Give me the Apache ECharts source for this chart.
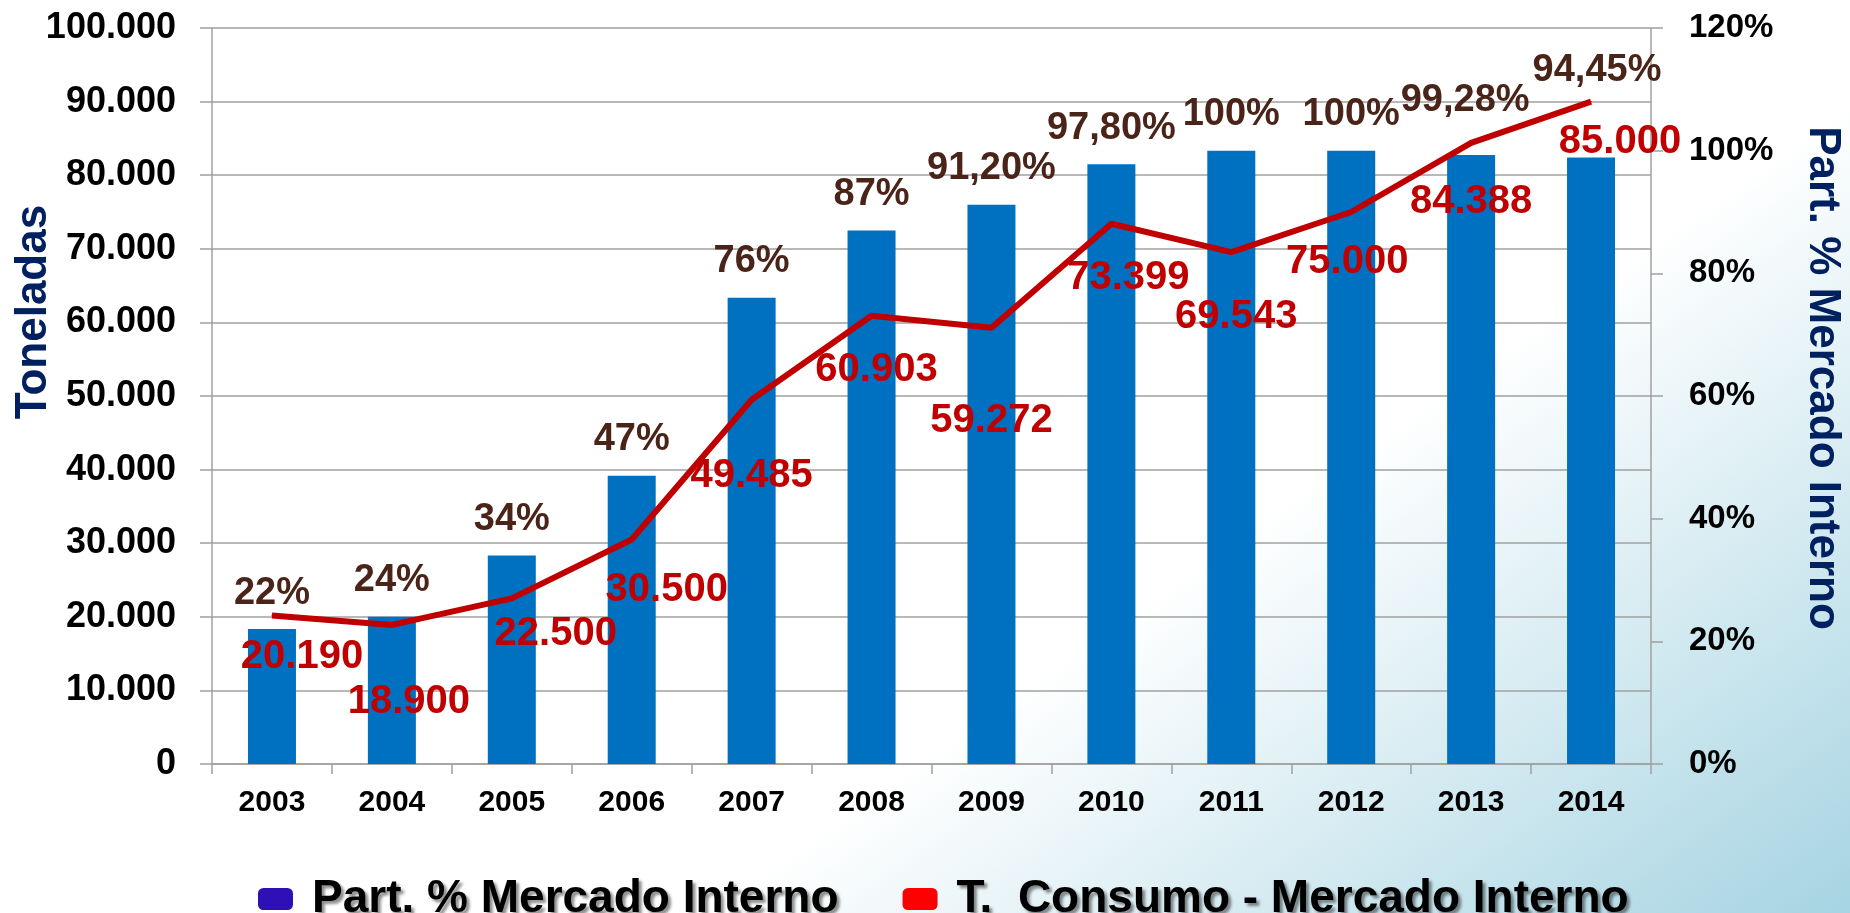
<!DOCTYPE html>
<html>
<head>
<meta charset="utf-8">
<title>Consumo - Mercado Interno</title>
<script src="https://cdn.jsdelivr.net/npm/echarts@6/dist/echarts.min.js"></script>
<style>
  html, body { margin: 0; padding: 0; }
  #chart { width: 1850px; height: 913px; }
</style>
</head>
<body>
<div id="chart"></div>
<script>
  // categories
  var years = ['2003', '2004', '2005', '2006', '2007', '2008', '2009', '2010', '2011', '2012', '2013', '2014'];

  // Part. % Mercado Interno (bars, right axis)
  var participacion = [22, 24, 34, 47, 76, 87, 91.2, 97.8, 100, 100, 99.28, 98.9];
  var participacionLabels = ['22%', '24%', '34%', '47%', '76%', '87%', '91,20%', '97,80%', '100%', '100%', '99,28%', '94,45%'];

  // T. Consumo - Mercado Interno (line, left axis)
  var consumo = [20190, 18900, 22500, 30500, 49485, 60903, 59272, 73399, 69543, 75000, 84388, 90000];
  var consumoLabels = ['20.190', '18.900', '22.500', '30.500', '49.485', '60.903', '59.272', '73.399', '69.543', '75.000', '84.388', '85.000'];

  // label nudges (px) so the texts sit where they do in the original
  var lineLabelShift = [[30, 42], [17, 77], [44, 36], [35, 50], [0, 76], [5, 54], [0, 93], [17, 54], [5, 65], [-4, 50], [0, 59], [29, 40]];
  var barLabelShift = { 10: [-6, -19], 11: [6, -51] };

  var FONT = '"Liberation Sans", Arial, sans-serif';
  var GRAY = '#A0A0A0';

  function miles(v) {
    return String(v).replace(/\B(?=(\d{3})+(?!\d))/g, '.');
  }

  var chart = echarts.init(document.getElementById('chart'));

  var barData = participacion.map(function (v, i) {
    var item = { value: v };
    if (barLabelShift[i]) {
      item.label = { offset: barLabelShift[i] };
    }
    return item;
  });

  var lineData = consumo.map(function (v, i) {
    return { value: v, label: { offset: lineLabelShift[i] } };
  });

  var option = {
    animation: false,
    // white on the upper left, light blue towards the bottom right corner
    backgroundColor: new echarts.graphic.LinearGradient(1850, 100, 2233, 642, [
      { offset: 0, color: '#ffffff' },
      { offset: 1, color: '#a6d4e2' }
    ], true),
    textStyle: { fontFamily: FONT },
    grid: { left: 212, right: 199, top: 28, bottom: 149, containLabel: false },
    legend: {
      left: 253,
      top: 871,
      icon: 'roundRect',
      itemWidth: 35,
      itemHeight: 22,
      itemGap: 64,
      textStyle: {
        fontFamily: FONT,
        fontSize: 46,
        fontWeight: 'bold',
        color: '#000',
        lineHeight: 46,
        padding: [0, 0, 0, 14],
        textShadowColor: 'rgba(0,0,0,0.45)',
        textShadowBlur: 3,
        textShadowOffsetX: 3,
        textShadowOffsetY: 3
      },
      data: [
        { name: 'Part. % Mercado Interno', itemStyle: { color: '#2e10b6' } },
        { name: 'T.  Consumo - Mercado Interno', itemStyle: { color: '#ff0000' } }
      ]
    },
    xAxis: {
      type: 'category',
      data: years,
      axisLine: { show: true, lineStyle: { color: GRAY, width: 1.5 } },
      axisTick: { show: true, length: 10, lineStyle: { color: GRAY, width: 1.5 } },
      axisLabel: {
        color: '#000',
        fontSize: 30,
        fontWeight: 'bold',
        fontFamily: FONT,
        lineHeight: 30,
        margin: 24
      }
    },
    yAxis: [
      {
        type: 'value',
        min: 0,
        max: 100000,
        interval: 10000,
        position: 'left',
        axisLine: { show: true, lineStyle: { color: GRAY, width: 1.5 } },
        axisTick: { show: true, length: 12, lineStyle: { color: GRAY, width: 1.5 } },
        splitLine: { show: true, lineStyle: { color: GRAY, width: 1.5 } },
        axisLabel: {
          color: '#000',
          fontSize: 36,
          fontWeight: 'bold',
          fontFamily: FONT,
          margin: 36,
          formatter: miles
        }
      },
      {
        type: 'value',
        min: 0,
        max: 120,
        interval: 20,
        position: 'right',
        axisLine: { show: true, lineStyle: { color: GRAY, width: 1.5 } },
        axisTick: { show: true, length: 12, lineStyle: { color: GRAY, width: 1.5 } },
        splitLine: { show: false },
        axisLabel: {
          color: '#000',
          fontSize: 33,
          fontWeight: 'bold',
          fontFamily: FONT,
          margin: 38,
          formatter: '{value}%'
        }
      }
    ],
    graphic: [
      {
        type: 'text',
        x: 34,
        y: 312,
        rotation: Math.PI / 2,
        style: {
          text: 'Toneladas',
          fill: '#002060',
          font: 'bold 44px ' + FONT,
          align: 'center',
          verticalAlign: 'middle',
          textAlign: 'center',
          textVerticalAlign: 'middle'
        }
      },
      {
        type: 'text',
        x: 1822,
        y: 378,
        rotation: -Math.PI / 2,
        style: {
          text: 'Part. % Mercado Interno',
          fill: '#002060',
          font: 'bold 44px ' + FONT,
          align: 'center',
          verticalAlign: 'middle',
          textAlign: 'center',
          textVerticalAlign: 'middle'
        }
      }
    ],
    series: [
      {
        name: 'Part. % Mercado Interno',
        type: 'bar',
        yAxisIndex: 1,
        barWidth: 48,
        data: barData,
        itemStyle: { color: '#0070c0' },
        label: {
          show: true,
          position: 'top',
          distance: 17,
          color: '#4a2418',
          fontSize: 38,
          fontWeight: 'bold',
          fontFamily: FONT,
          lineHeight: 38,
          formatter: function (p) { return participacionLabels[p.dataIndex]; }
        },
        z: 2
      },
      {
        name: 'T.  Consumo - Mercado Interno',
        type: 'line',
        yAxisIndex: 0,
        data: lineData,
        symbol: 'circle',
        symbolSize: 1,
        showSymbol: true,
        itemStyle: { color: '#c00000' },
        lineStyle: { color: '#c00000', width: 6 },
        label: {
          show: true,
          position: 'inside',
          color: '#c00000',
          fontSize: 40,
          fontWeight: 'bold',
          fontFamily: FONT,
          formatter: function (p) { return consumoLabels[p.dataIndex]; }
        },
        z: 3
      }
    ]
  };

  chart.setOption(option);
  window.addEventListener('resize', function () { chart.resize(); });
</script>
</body>
</html>
